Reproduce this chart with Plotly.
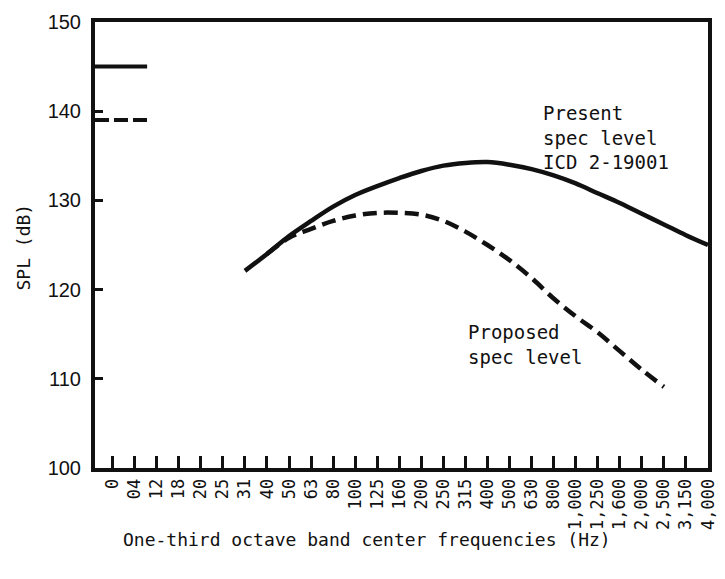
import plotly.graph_objects as go

# One-third octave band center frequency labels (as printed)
freq_labels = ["0", "04", "12", "18", "20", "25", "31", "40", "50", "63", "80",
               "100", "125", "160", "200", "250", "315", "400", "500", "630", "800",
               "1,000", "1,250", "1,600", "2,000", "2,500", "3,150", "4,000"]

# Present spec level ICD 2-19001 (from 31 Hz to 4,000 Hz)
present_freqs = freq_labels[6:28]
present_spl = [122.1, 124.0, 126.0, 127.7, 129.3, 130.6, 131.6, 132.5, 133.3, 133.9,
               134.2, 134.3, 134.0, 133.5, 132.8, 131.9, 130.8, 129.7, 128.5, 127.3,
               126.1, 125.0]

# Proposed spec level (from 40 Hz to 2,500 Hz)
proposed_freqs = freq_labels[7:26]
proposed_spl = [124.0, 125.8, 126.8, 127.7, 128.3, 128.6, 128.6, 128.4, 127.7, 126.5,
                125.0, 123.3, 121.3, 119.0, 117.0, 115.2, 113.1, 111.0, 109.1]

# Overall levels marked at the left axis
present_overall = 145.0
proposed_overall = 139.0

mono = "DejaVu Sans Mono"
ink = "#111111"

fig = go.Figure()
fig.add_trace(go.Scatter(x=present_freqs, y=present_spl, mode="lines",
                         line=dict(color=ink, width=4.5, shape="spline", smoothing=1.0),
                         showlegend=False, hoverinfo="skip"))
fig.add_trace(go.Scatter(x=proposed_freqs, y=proposed_spl, mode="lines",
                         line=dict(color=ink, width=4.5, dash="14px,7px",
                                   shape="spline", smoothing=1.0),
                         showlegend=False, hoverinfo="skip"))

# short overall-level marks at the left axis
fig.add_shape(type="line", xref="paper", yref="y", x0=0, x1=0.085,
              y0=present_overall, y1=present_overall,
              line=dict(color=ink, width=4))
fig.add_shape(type="line", xref="paper", yref="y", x0=0, x1=0.09,
              y0=proposed_overall, y1=proposed_overall,
              line=dict(color=ink, width=4, dash="14px,5px"))

fig.add_annotation(text="Present<br>spec level<br>ICD 2-19001", xref="paper", yref="paper",
                   x=0.727, y=0.742, xanchor="left", yanchor="middle", align="left",
                   showarrow=False, font=dict(family=mono, size=19, color=ink))
fig.add_annotation(text="Proposed<br>spec level", xref="paper", yref="paper",
                   x=0.605, y=0.277, xanchor="left", yanchor="middle", align="left",
                   showarrow=False, font=dict(family=mono, size=19, color=ink))
fig.add_annotation(text="One-third octave band center frequencies (Hz)",
                   xref="paper", yref="paper", x=0.443, y=-0.161,
                   xanchor="center", yanchor="middle", showarrow=False,
                   font=dict(family=mono, size=18, color=ink))
fig.add_annotation(text="SPL (dB)", xref="paper", yref="paper", x=-0.117, y=0.495,
                   xanchor="center", yanchor="middle", textangle=-90, showarrow=False,
                   font=dict(family=mono, size=18, color=ink))

fig.update_layout(
    width=725, height=579,
    margin=dict(l=95, r=7, t=22, b=111),
    paper_bgcolor="white", plot_bgcolor="white",
    xaxis=dict(type="category", categoryorder="array", categoryarray=freq_labels,
               range=[-0.8, 27], tickmode="array", tickvals=freq_labels,
               ticktext=freq_labels, tickangle=-90,
               ticks="inside", ticklen=12, tickwidth=3, tickcolor=ink,
               showline=True, linewidth=4, linecolor=ink, mirror=True,
               showgrid=False, zeroline=False,
               tickfont=dict(family=mono, size=17, color=ink)),
    yaxis=dict(range=[100, 150], tickmode="array", tickvals=[100, 110, 120, 130, 140, 150],
               ticks="inside", ticklen=8, tickwidth=3, tickcolor=ink,
               showline=True, linewidth=4, linecolor=ink, mirror=True,
               showgrid=False, zeroline=False, ticklabelstandoff=6,
               tickfont=dict(family="Liberation Sans", size=20, color=ink)),
)

fig.write_html("out.html")
